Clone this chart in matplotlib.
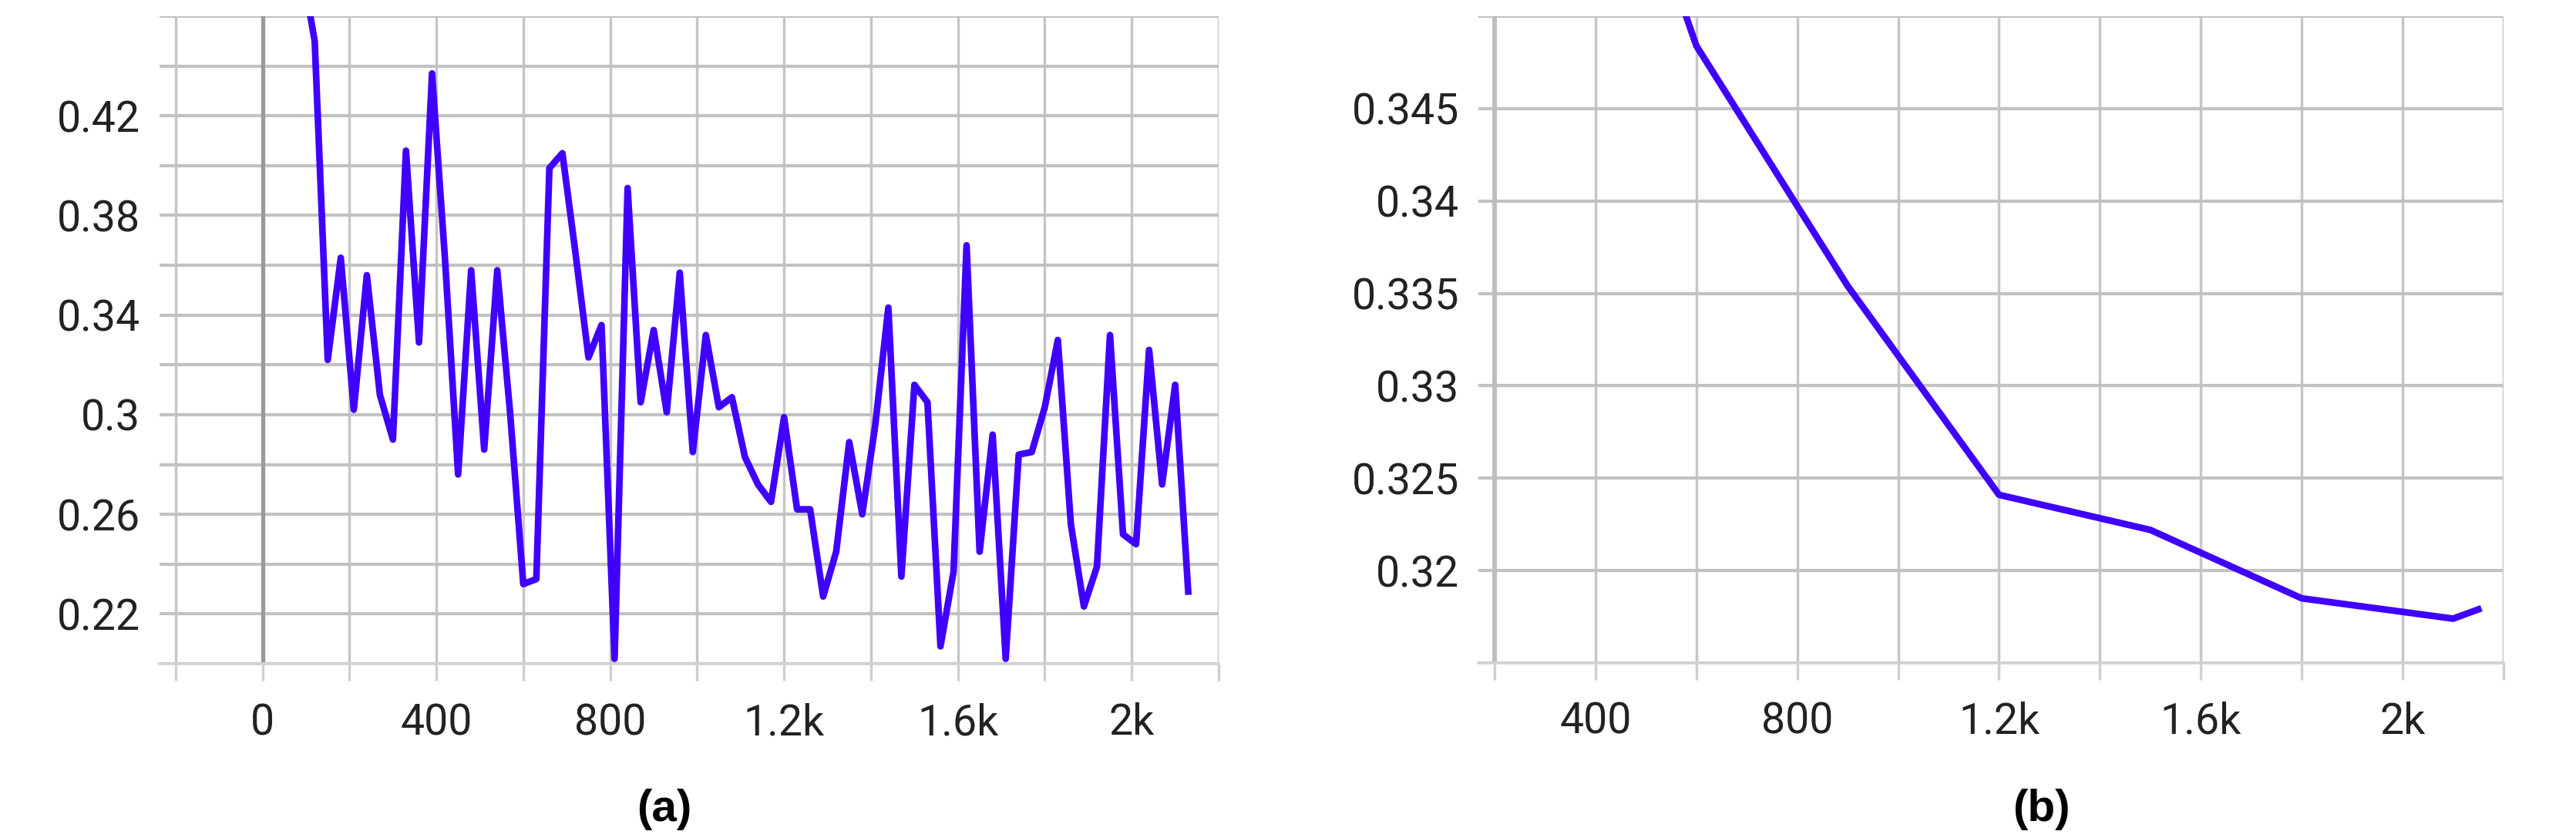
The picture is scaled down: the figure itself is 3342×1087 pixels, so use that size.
import matplotlib
matplotlib.use("Agg")
import matplotlib.pyplot as plt

# (a) raw loss per step
steps_a = [0, 30, 60, 90, 120, 150, 180, 210, 240, 270, 300, 330, 360, 390, 420, 450,
           480, 510, 540, 570, 600, 630, 660, 690, 720, 750, 780, 810, 840, 870, 900,
           930, 960, 990, 1020, 1050, 1080, 1110, 1140, 1170, 1200, 1230, 1260, 1290,
           1320, 1350, 1380, 1410, 1440, 1470, 1500, 1530, 1560, 1590, 1620, 1650, 1680,
           1710, 1740, 1770, 1800, 1830, 1860, 1890, 1920, 1950, 1980, 2010, 2040, 2070,
           2100, 2130]
loss_a = [0.62, 0.56, 0.51, 0.48, 0.450, 0.322, 0.363, 0.302, 0.356, 0.308, 0.290, 0.406,
          0.329, 0.437, 0.362, 0.276, 0.358, 0.286, 0.358, 0.300, 0.232, 0.234, 0.399,
          0.405, 0.365, 0.323, 0.336, 0.202, 0.391, 0.305, 0.334, 0.301, 0.357, 0.285,
          0.332, 0.303, 0.307, 0.283, 0.272, 0.265, 0.299, 0.262, 0.262, 0.227, 0.245,
          0.289, 0.260, 0.296, 0.343, 0.235, 0.312, 0.305, 0.207, 0.237, 0.368, 0.245,
          0.292, 0.202, 0.284, 0.285, 0.303, 0.330, 0.256, 0.223, 0.239, 0.332, 0.252,
          0.248, 0.326, 0.272, 0.312, 0.229]

# (b) evaluated loss
steps_b = [300, 600, 900, 1200, 1500, 1800, 2100, 2150]
loss_b = [0.372, 0.3484, 0.3354, 0.3241, 0.3222, 0.3185, 0.3174, 0.3179]

xgrid_a = [-200, 0, 200, 400, 600, 800, 1000, 1200, 1400, 1600, 1800, 2000, 2200]
xlab_a = ['', '0', '', '400', '', '800', '', '1.2k', '', '1.6k', '', '2k', '']
ygrid_a = [0.20, 0.22, 0.24, 0.26, 0.28, 0.30, 0.32, 0.34, 0.36, 0.38, 0.40, 0.42, 0.44, 0.46]
ylab_a = ['', '0.22', '', '0.26', '', '0.3', '', '0.34', '', '0.38', '', '0.42', '', '']

xgrid_b = [200, 400, 600, 800, 1000, 1200, 1400, 1600, 1800, 2000, 2200]
xlab_b = ['', '400', '', '800', '', '1.2k', '', '1.6k', '', '2k', '']
ygrid_b = [0.315, 0.32, 0.325, 0.33, 0.335, 0.34, 0.345, 0.35]
ylab_b = ['', '0.32', '0.325', '0.33', '0.335', '0.34', '0.345', '']

W, H = 3342, 1087
LINE = '#3f00ff'
plt.rcParams['font.family'] = ['Roboto', 'DejaVu Sans']

fig = plt.figure(figsize=(W / 100, H / 100), dpi=100)


def px_axes(left, right, top, bottom):
    return fig.add_axes([left / W, 1 - bottom / H, (right - left) / W, (bottom - top) / H])


def style(ax, xg, xl, yg, yl):
    ax.set_xticks(xg)
    ax.set_xticklabels(xl)
    ax.set_yticks(yg)
    ax.set_yticklabels(yl)
    for s in ['top', 'left', 'right']:
        ax.spines[s].set_visible(False)
    ax.spines['bottom'].set_color('#d2d2d2')
    ax.spines['bottom'].set_linewidth(2.6)
    ax.tick_params(axis='x', length=16, width=2.4, color='#cfcfcf', pad=20,
                   labelsize=40, labelcolor='#222222')
    ax.tick_params(axis='y', length=0, pad=18, labelsize=40, labelcolor='#222222')
    ax.grid(True, axis='y', color='#c2c2c2', linewidth=3.0)
    ax.grid(True, axis='x', color='#c6c6c6', linewidth=2.5)
    ax.set_axisbelow(True)


# panel (a)
ax1 = px_axes(207, 1581, 21, 861)
style(ax1, xgrid_a, xlab_a, ygrid_a, ylab_a)
ax1.set_xlim(-237, 2200)
ax1.set_ylim(0.2, 0.46)
ax1.axvline(0, color='#999999', linewidth=3.8, zorder=1.5)
ax1.plot(steps_a, loss_a, color=LINE, linewidth=6.2, zorder=3)

# panel (b)
ax2 = px_axes(1918, 3248, 21, 860)
style(ax2, xgrid_b, xlab_b, ygrid_b, ylab_b)
ax2.set_xlim(168, 2200)
ax2.set_ylim(0.315, 0.35)
ax2.axvline(200, color='#bdbdbd', linewidth=4.2, zorder=1.5)
ax2.plot(steps_b, loss_b, color=LINE, linewidth=6.2, zorder=3)

label_font = ['Liberation Sans Narrow', 'Liberation Sans', 'DejaVu Sans']
fig.text(862 / W, 1 - 1050 / H, '(a)', ha='center', va='center', fontsize=42,
         fontweight='bold', family=label_font)
fig.text(2648 / W, 1 - 1050 / H, '(b)', ha='center', va='center', fontsize=42,
         fontweight='bold', family=label_font)

fig.savefig('out.png', dpi=100, facecolor='white')
